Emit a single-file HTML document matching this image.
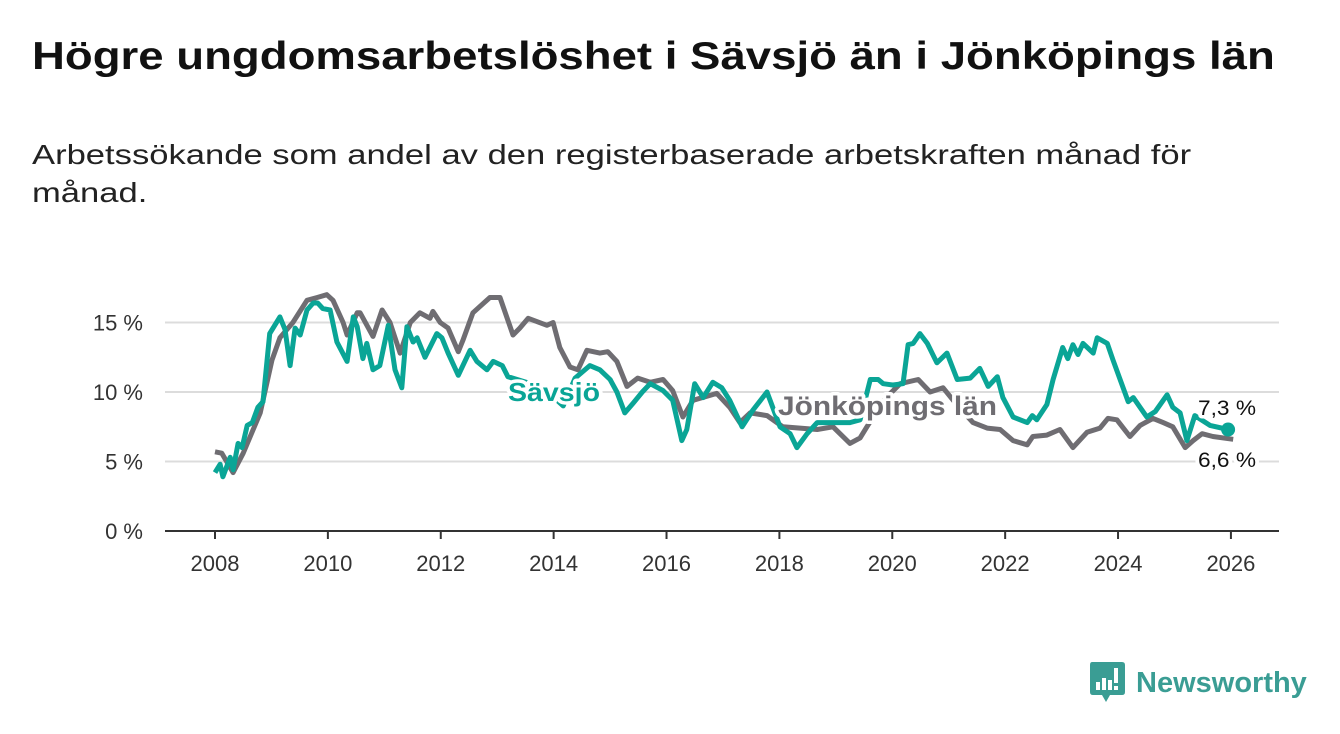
<!DOCTYPE html>
<html><head><meta charset="utf-8"><style>
body{margin:0;width:1340px;height:734px;background:#fff;font-family:"Liberation Sans",sans-serif;overflow:hidden;position:relative}
h1{position:absolute;left:32px;top:35px;margin:0;font-size:39px;font-weight:bold;color:#111;transform:scaleX(1.168);transform-origin:left top;white-space:nowrap}
.sub{position:absolute;left:32px;top:136px;margin:0;font-size:28px;line-height:38px;color:#222;transform:scaleX(1.235);transform-origin:left top;white-space:nowrap}
svg{position:absolute;left:0;top:0}
</style></head><body>
<h1>Högre ungdomsarbetslöshet i Sävsjö än i Jönköpings län</h1>
<p class="sub">Arbetssökande som andel av den registerbaserade arbetskraften månad för<br>månad.</p>
<svg id="chart" width="1340" height="734"></svg>
<div style="position:absolute;left:1090px;top:662px;display:flex;align-items:center">
<svg width="36" height="42" style="position:static"><path d="M2 0H32Q35 0 35 3V30Q35 33 32 33H20L16 40L12 33H3Q0 33 0 30V3Q0 0 2 0Z" fill="#3a9d94"/><rect x="6" y="20" width="4" height="8" fill="#fff"/><rect x="12" y="16" width="4" height="12" fill="#fff"/><rect x="18" y="18" width="4" height="10" fill="#fff"/><rect x="24" y="6" width="4" height="15" fill="#fff"/><rect x="24" y="24" width="4" height="4" fill="#fff"/></svg>
<span style="font-size:29px;font-weight:bold;color:#3a9d94;margin-left:10px">Newsworthy</span></div>
<script>
const gYears=[2008.0,2008.12,2008.32,2008.5,2008.8,2009.01,2009.15,2009.38,2009.63,2009.81,2009.98,2010.09,2010.27,2010.34,2010.52,2010.57,2010.8,2010.96,2011.1,2011.28,2011.46,2011.63,2011.81,2011.86,2011.99,2012.13,2012.31,2012.39,2012.57,2012.87,2013.05,2013.28,2013.4,2013.55,2013.88,2013.99,2014.11,2014.29,2014.43,2014.59,2014.82,2014.96,2015.12,2015.3,2015.49,2015.71,2015.94,2016.11,2016.29,2016.47,2016.89,2017.12,2017.3,2017.48,2017.78,2018.06,2018.67,2018.95,2019.25,2019.43,2019.55,2019.87,2020.14,2020.46,2020.67,2020.9,2021.16,2021.43,2021.68,2021.91,2022.14,2022.39,2022.49,2022.74,2022.97,2023.2,2023.45,2023.68,2023.82,2023.98,2024.21,2024.39,2024.62,2024.8,2024.97,2025.19,2025.33,2025.49,2025.68,2026.04];
const gVals=[5.7,5.6,4.2,5.6,8.5,12.3,13.9,15.0,16.6,16.8,17.0,16.6,15.0,14.1,15.7,15.7,14.0,15.9,15.0,12.8,15.0,15.7,15.3,15.8,15.0,14.6,12.9,13.7,15.7,16.8,16.8,14.1,14.6,15.3,14.8,15.0,13.2,11.8,11.6,13.0,12.8,12.9,12.2,10.4,11.0,10.7,10.9,10.1,8.2,9.4,9.9,8.9,7.8,8.5,8.3,7.5,7.3,7.5,6.3,6.7,7.5,9.5,10.6,10.9,10.0,10.3,9.0,7.8,7.4,7.3,6.5,6.2,6.8,6.9,7.3,6.0,7.1,7.4,8.1,8.0,6.8,7.6,8.1,7.8,7.5,6.0,6.5,7.0,6.8,6.6];
const sYears=[2008.0,2008.09,2008.14,2008.27,2008.32,2008.41,2008.48,2008.57,2008.66,2008.76,2008.85,2008.97,2009.15,2009.24,2009.33,2009.42,2009.51,2009.63,2009.74,2009.82,2009.91,2010.04,2010.16,2010.34,2010.45,2010.52,2010.62,2010.69,2010.8,2010.92,2011.07,2011.19,2011.31,2011.4,2011.51,2011.58,2011.72,2011.93,2012.02,2012.13,2012.31,2012.52,2012.64,2012.82,2012.93,2013.09,2013.19,2013.67,2013.9,2014.17,2014.38,2014.64,2014.82,2015.0,2015.12,2015.26,2015.41,2015.57,2015.71,2015.94,2016.11,2016.27,2016.36,2016.5,2016.65,2016.82,2016.98,2017.12,2017.34,2017.53,2017.78,2018.01,2018.19,2018.31,2018.49,2018.67,2018.84,2019.25,2019.43,2019.61,2019.75,2019.84,2020.01,2020.19,2020.28,2020.37,2020.49,2020.62,2020.79,2020.97,2021.15,2021.38,2021.55,2021.7,2021.86,2021.96,2022.14,2022.39,2022.48,2022.56,2022.74,2022.85,2023.02,2023.11,2023.2,2023.29,2023.38,2023.56,2023.63,2023.81,2023.91,2024.18,2024.27,2024.51,2024.66,2024.87,2024.97,2025.1,2025.22,2025.36,2025.63,2025.95];
const sVals=[4.2,4.8,3.9,5.3,4.4,6.3,6.0,7.6,7.8,8.9,9.3,14.2,15.4,14.5,11.9,14.6,14.1,15.9,16.4,16.4,16.0,15.9,13.6,12.2,15.4,14.7,12.4,13.5,11.6,11.9,14.8,11.6,10.3,14.7,13.6,13.9,12.5,14.2,13.9,12.8,11.2,13.0,12.2,11.6,12.2,11.9,11.1,10.5,10.0,9.0,11.0,11.9,11.6,10.9,10.0,8.5,9.2,10.0,10.6,10.1,9.4,6.5,7.3,10.6,9.6,10.7,10.3,9.4,7.5,8.7,10.0,7.5,7.0,6.0,7.0,7.8,7.8,7.8,8.0,10.9,10.9,10.6,10.5,10.6,13.4,13.5,14.2,13.5,12.1,12.8,10.9,11.0,11.7,10.4,11.1,9.6,8.2,7.8,8.3,8.0,9.1,10.9,13.2,12.4,13.4,12.7,13.5,12.8,13.9,13.5,12.3,9.3,9.6,8.2,8.6,9.8,8.9,8.5,6.5,8.3,7.6,7.3];
const yTicks=[0,5,10,15];
const xTicks=[2008,2010,2012,2014,2016,2018,2020,2022,2024,2026];
const NS="http://www.w3.org/2000/svg",svg=document.getElementById('chart');
const X=v=>215+(v-2008)*56.44, Y=v=>531-v*13.9;
function mk(t,a,p){const e=document.createElementNS(NS,t);for(const k in a)e.setAttribute(k,a[k]);(p||svg).appendChild(e);return e;}
yTicks.forEach(t=>{
 if(t>0){const l=mk('line',{x1:165,x2:1279,y1:Y(t),y2:Y(t),stroke:'#dcdcdc','stroke-width':2});
 
 }
 const tx=mk('text',{x:143,y:Y(t)+8,'text-anchor':'end','font-size':22,fill:'#333'});tx.textContent=t+' %';
 
 
});
const ax=mk('line',{x1:165,x2:1279,y1:531,y2:531,stroke:'#333','stroke-width':2});


xTicks.forEach(t=>{
 mk('line',{x1:X(t),x2:X(t),y1:531,y2:539,stroke:'#333','stroke-width':2});
 const tx=mk('text',{x:X(t),y:571,'text-anchor':'middle','font-size':22,fill:'#333'});tx.textContent=t;
 
 
});
function line(xs,vs,c,name){const d=xs.map((x,i)=>(i?'L':'M')+X(x).toFixed(1)+' '+Y(vs[i]).toFixed(1)).join('');
 const p=mk('path',{d:d,fill:'none',stroke:c,'stroke-width':5,'stroke-linejoin':'round'});
 
 }
line(gYears,gVals,'#6f6d72','line-jonkopings-lan');
line(sYears,sVals,'#0aa596','line-savsjo');
function lab(x,y,txt,c,fs,w,len,name){const a={x:x,y:y,'font-size':fs,'font-weight':w,fill:c,stroke:'#fff','stroke-width':7,'paint-order':'stroke','stroke-linejoin':'round'};if(len){a.textLength=len;a.lengthAdjust='spacingAndGlyphs';}
 const t=mk('text',a);t.textContent=txt;
 
 }
lab(508,401,'Sävsjö','#0aa596',26,'bold',92,'label-savsjo');
lab(778,415,'Jönköpings län','#6f6d72',27,'bold',219,'label-jonkopings-lan');
const dot=mk('circle',{cx:X(sYears[sYears.length-1]),cy:Y(sVals[sVals.length-1]),r:7,fill:'#0aa596'});


lab(1198,415,sVals[sVals.length-1].toFixed(1).replace('.',',')+' %','#111',21,'normal',58,'end-label-savsjo');
lab(1198,467,gVals[gVals.length-1].toFixed(1).replace('.',',')+' %','#111',21,'normal',58,'end-label-jonkoping');
</script>
</body></html>
